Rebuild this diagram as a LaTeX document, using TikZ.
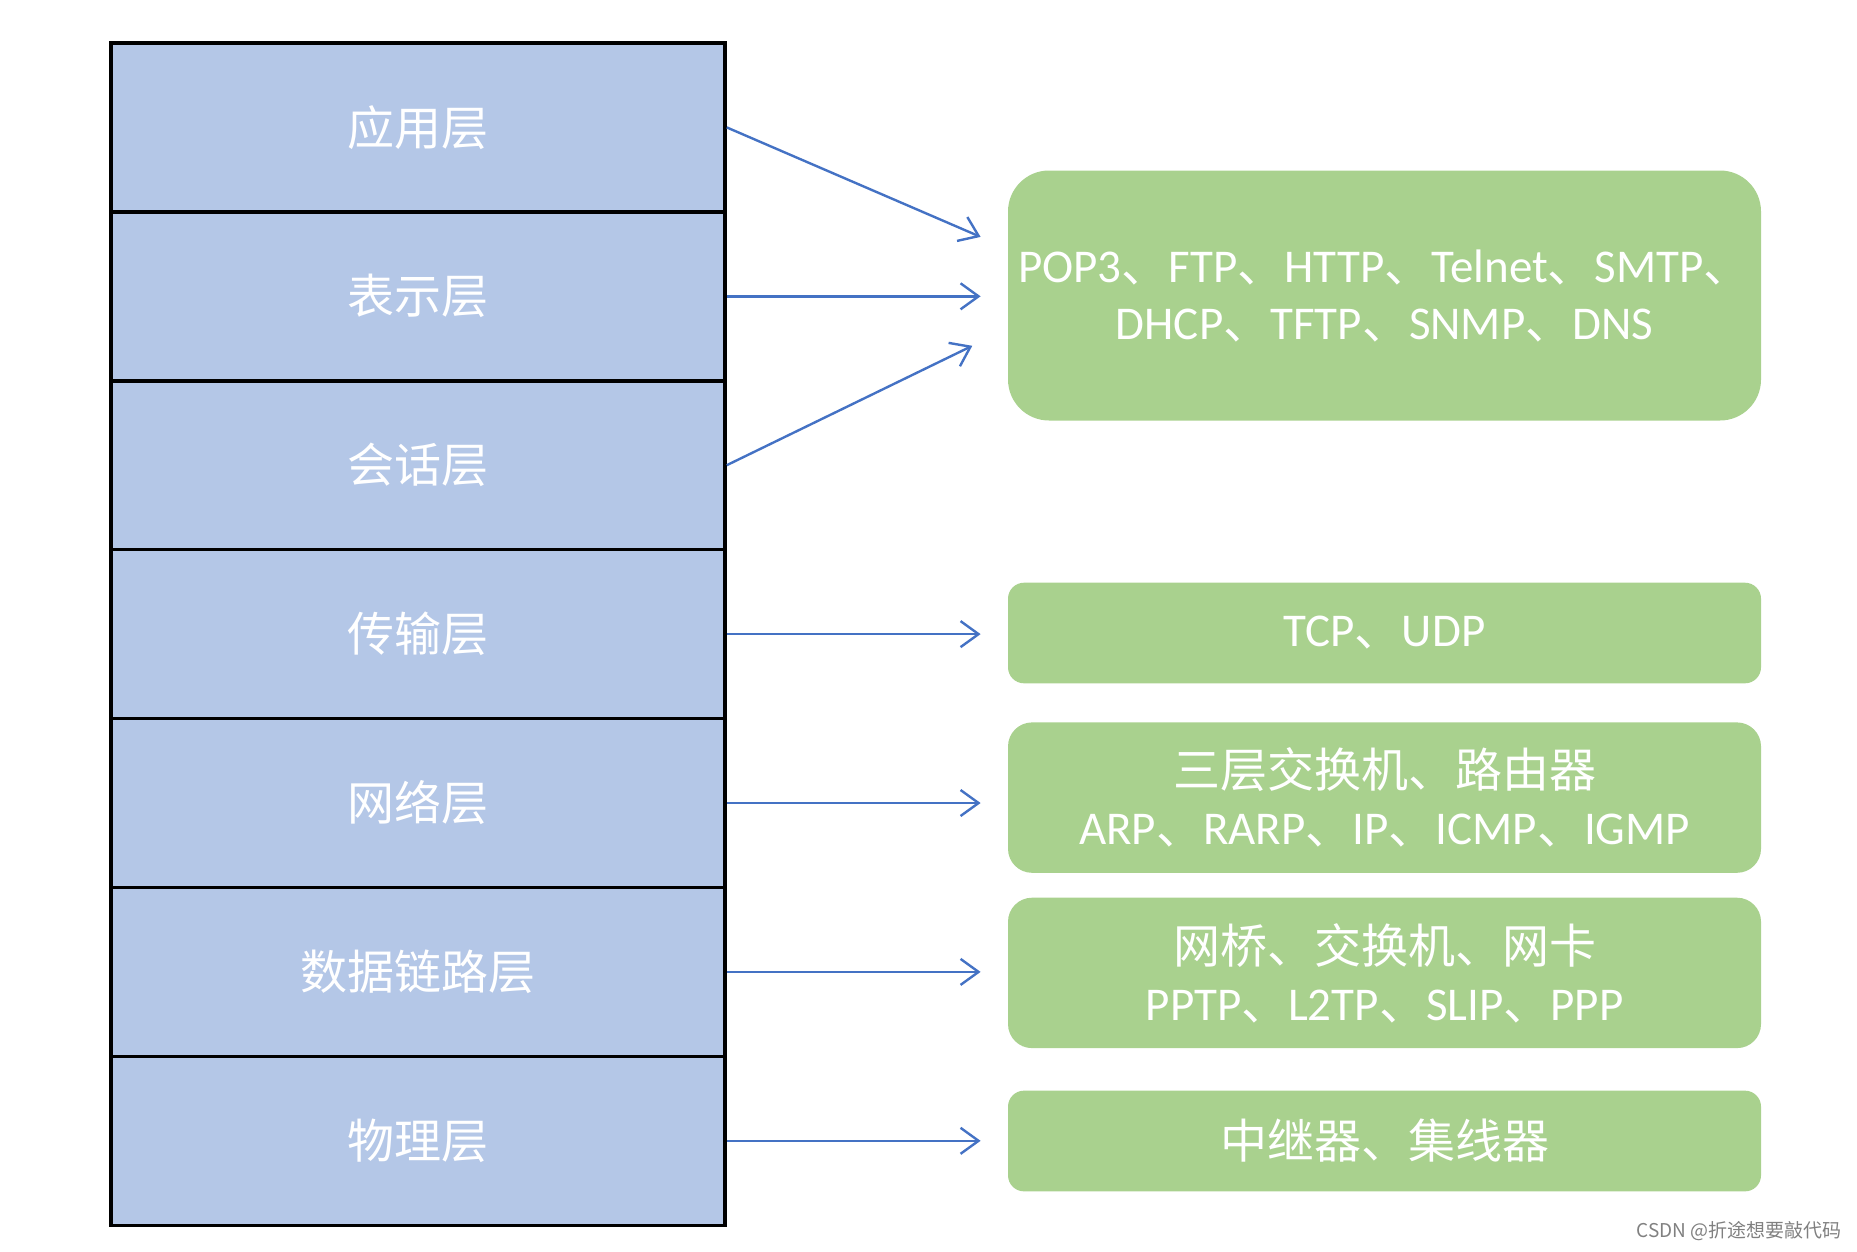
\documentclass[tikz,border=0pt]{standalone}
\usepackage{fontspec}
\setmainfont{Carlito}
\newfontfamily\cjk{Noto Sans CJK SC}
\usetikzlibrary{arrows.meta}
\newcommand\mydun{{\cjk 、}}
\definecolor{layerblue}{HTML}{B4C7E7}
\definecolor{protogreen}{HTML}{A9D18E}
\definecolor{arrowblue}{HTML}{4472C4}
\begin{document}
\begin{tikzpicture}[x=1pt,y=-1pt,
  layer/.style={draw=black, line width=3.5pt, fill=layerblue, minimum width=614pt, minimum height=168.9pt, inner sep=0pt, text=white, font=\cjk\fontsize{47}{57}\selectfont},
  proto/.style={fill=protogreen, minimum width=753pt, inner sep=0pt, text=white, align=center, font=\fontsize{47}{57}\selectfont},
  conn/.style={draw=arrowblue, line width=2.4pt, -{Straight Barb[length=18pt,width=26pt,line width=2.4pt]}}
]
\useasboundingbox (0,0) rectangle (1857,1251);
% layers
\node[layer] (L1) at (418,127.4) {应用层};
\node[layer] (L2) at (418,296.3) {表示层};
\node[layer] (L3) at (418,465.2) {会话层};
\node[layer] (L4) at (418,634.1) {传输层};
\node[layer] (L5) at (418,803.0) {网络层};
\node[layer] (L6) at (418,971.9) {数据链路层};
\node[layer] (L7) at (418,1140.8) {物理层};
% protocol boxes
\node[proto, minimum height=250pt, rounded corners=41pt] (P1) at (1384.5,295.5)
  {POP3\mydun FTP\mydun HTTP\mydun Telnet\mydun SMTP\mydun\\DHCP\mydun TFTP\mydun SNMP\mydun DNS};
\node[proto, minimum height=100.6pt, rounded corners=16pt] (P2) at (1384.5,633.0)
  {TCP\mydun UDP};
\node[proto, minimum height=150.4pt, rounded corners=24pt] (P3) at (1384.5,797.6)
  {{\cjk 三层交换机、路由器}\\ARP\mydun RARP\mydun IP\mydun ICMP\mydun IGMP};
\node[proto, minimum height=150.4pt, rounded corners=24pt] (P4) at (1384.5,972.9)
  {{\cjk 网桥、交换机、网卡}\\PPTP\mydun L2TP\mydun SLIP\mydun PPP};
\node[proto, minimum height=100.7pt, rounded corners=16pt, font=\cjk\fontsize{47}{57}\selectfont] (P5) at (1384.5,1141.0)
  {中继器、集线器};
% arrow end points
\coordinate (a1) at (980.6,236.9);
\coordinate (a2) at (980.6,296.3);
\coordinate (a3) at (972.3,345.8);
\coordinate (a4) at (980.6,634.1);
\coordinate (a5) at (980.6,803.0);
\coordinate (a6) at (980.6,971.9);
\coordinate (a7) at (980.6,1140.8);
\draw[conn] (L1.east) -- (a1);
\draw[conn] (L2.east) -- (a2);
\draw[conn] (L3.east) -- (a3);
\draw[conn] (L4.east) -- (a4);
\draw[conn] (L5.east) -- (a5);
\draw[conn] (L6.east) -- (a6);
\draw[conn] (L7.east) -- (a7);
% watermark
\node[anchor=east, inner sep=0pt, text=gray, font=\cjk\fontsize{19}{22}\selectfont] (wm) at (1842,1231) {CSDN @折途想要敲代码};
\end{tikzpicture}
\end{document}
